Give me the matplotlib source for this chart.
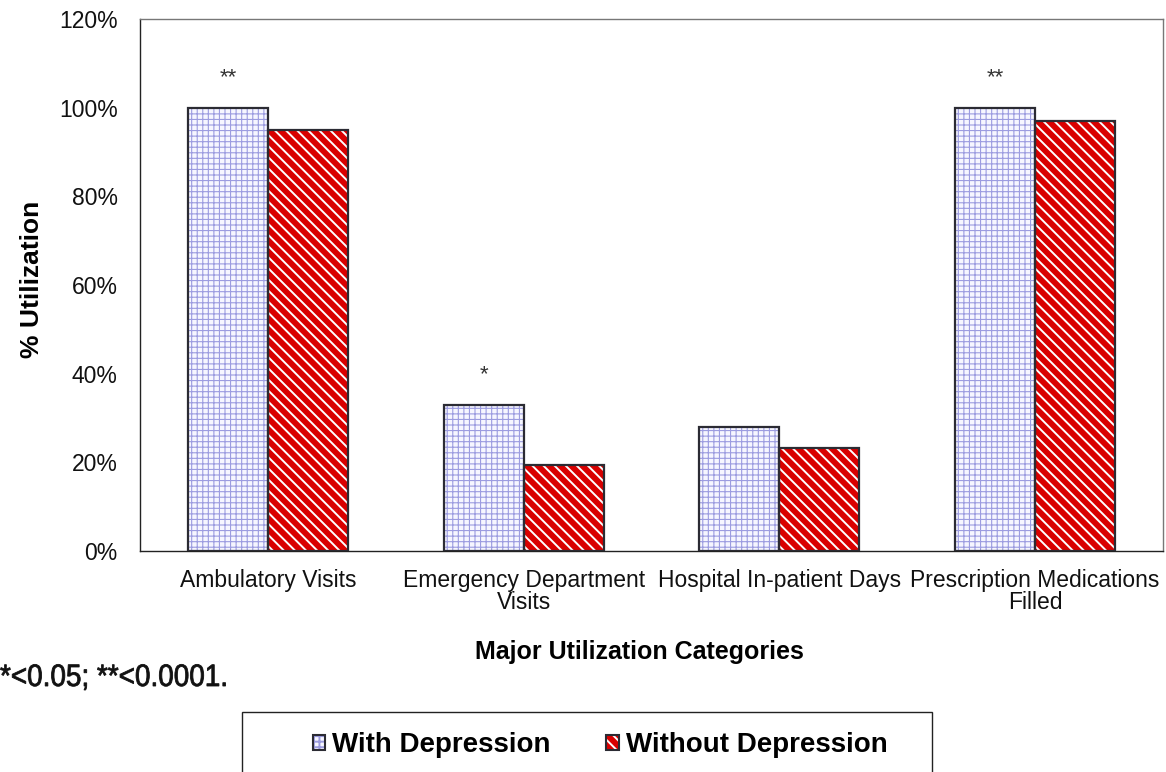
import matplotlib
matplotlib.use("Agg")
import matplotlib.pyplot as plt
from matplotlib.patches import Rectangle, PathPatch
from matplotlib.textpath import TextPath
from matplotlib.font_manager import FontProperties
from matplotlib.transforms import Affine2D, IdentityTransform
from matplotlib.legend_handler import HandlerTuple
import numpy as np

plt.rcParams['font.family'] = ['Liberation Sans', 'DejaVu Sans']

categories = ["Ambulatory Visits", "Emergency Department\nVisits",
              "Hospital In-patient Days", "Prescription Medications\nFilled"]
with_dep = [100, 33, 28, 100]
without_dep = [95, 19.3, 23.2, 97]
signif = ["**", "*", "", "**"]
series_names = ["With Depression", "Without Depression"]
y_ticks = [0, 20, 40, 60, 80, 100, 120]
footnote = "*<0.05; **<0.0001."

W, H = 1166, 772
fig = plt.figure(figsize=(W/100, H/100), dpi=100)
ax = fig.add_axes([140/W, 1-551/H, 1023/W, 532/H])

x = np.arange(len(categories))
w = 0.313
edge = '#2b2b33'
styles = [('#f6f6ff', '#9c9ce0', '+++', 0.8),
          ('#d90000', '#ffffff', '\\\\\\', 1.4)]

def hatched_bars(xpos, vals, face, hcol, hatch, hlw):
    plt.rcParams['hatch.linewidth'] = hlw
    bars = ax.bar(xpos, vals, w, color=face, edgecolor=hcol, linewidth=0,
                  hatch=hatch, zorder=2)
    for b in bars:
        try:
            b.set_hatch_linewidth(hlw)
        except AttributeError:
            pass
    ax.bar(xpos, vals, w, fill=False, edgecolor=edge, linewidth=1.6, zorder=3)

hatched_bars(x - w/2, with_dep, *styles[0])
hatched_bars(x + w/2, without_dep, *styles[1])

for xi, v, s in zip(x, with_dep, signif):
    if s:
        ax.text(xi - w/2, v + 4.5, s, ha='center', va='bottom', fontsize=16, color='#333333')

ax.set_xlim(-0.5, 3.5)
ax.set_ylim(0, 120)
ax.set_yticks(y_ticks)
ax.set_yticklabels([f"{t}%" for t in y_ticks])
ax.set_xticks(x)
ax.set_xticklabels(categories, linespacing=0.95)
ax.tick_params(axis='both', length=0, labelsize=16.5, colors='#111111')
ax.tick_params(axis='x', pad=13)
ax.tick_params(axis='y', pad=16)
for sp in ax.spines.values():
    sp.set_color('#222222')
    sp.set_linewidth(1.0)
ax.spines['top'].set_color('#777777')
ax.spines['right'].set_color('#777777')

fig.text(32/W, 1-279/H, "% Utilization", rotation=90, ha='center', va='center',
         fontsize=19, fontweight='bold')
fig.text(639/W, 1-652/H, "Major Utilization Categories", ha='center', va='center',
         fontsize=18, fontweight='bold')

# footnote: slightly condensed text drawn as a path in pixel coordinates
tp = TextPath((0, 0), footnote, size=31, prop=FontProperties(family='Liberation Sans'))
tr = Affine2D().scale(0.9, 1.0).translate(0, H - 686)
fig.patches.append(PathPatch(tr.transform_path(tp), transform=IdentityTransform(),
                             facecolor='#111111', edgecolor='#111111', linewidth=0.6))

# legend box running off the bottom edge
fig.patches.append(Rectangle((242/W, -0.1), 690/W, 0.1 + 1-712/H,
                             transform=fig.transFigure, fill=False,
                             edgecolor='#222222', linewidth=1.0))
handles = []
for face, hcol, hatch, hlw in styles:
    p1 = Rectangle((0, 0), 1, 1, facecolor=face, edgecolor=hcol, linewidth=0, hatch=hatch)
    p2 = Rectangle((0, 0), 1, 1, fill=False, edgecolor=edge, linewidth=1.5)
    handles.append((p1, p2))
fig.legend(handles, series_names, loc='center', ncol=2,
           handler_map={tuple: HandlerTuple(ndivide=1, pad=0)},
           bbox_to_anchor=(600/W, 1-745/H), frameon=False,
           prop={'weight': 'bold', 'size': 20}, handlelength=0.45, handleheight=0.45,
           handletextpad=0.25, columnspacing=2.0)

fig.savefig("out.png", dpi=100)
